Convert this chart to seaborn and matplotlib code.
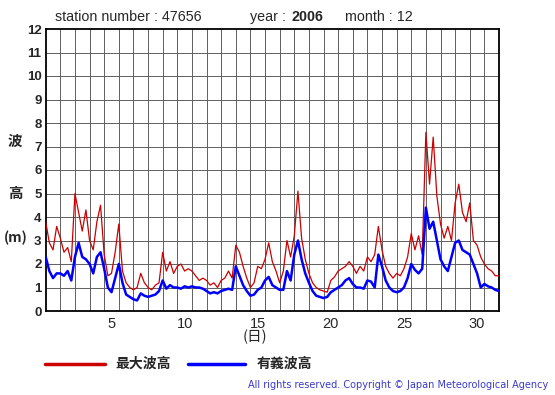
import numpy as np
import pandas as pd
import matplotlib
matplotlib.use("Agg")
import matplotlib.pyplot as plt
import seaborn as sns

# 6-hourly readings, day 1 00h .. day 31 18h, plus final point (day 32 00h)
max_wave = [
    3.8, 2.9, 2.6, 3.6,   3.1, 2.5, 2.7, 2.1,   5.0, 4.2, 3.4, 4.3,
    3.0, 2.6, 3.8, 4.5,   2.4, 1.5, 1.6, 2.5,   3.7, 1.7, 1.2, 1.0,
    0.9, 1.0, 1.6, 1.2,   1.0, 0.9, 1.1, 1.2,   2.5, 1.7, 2.1, 1.6,
    1.9, 2.0, 1.7, 1.8,   1.7, 1.5, 1.3, 1.4,   1.3, 1.1, 1.2, 1.0,
    1.3, 1.4, 1.7, 1.4,   2.8, 2.5, 1.9, 1.4,   1.0, 1.2, 1.9, 1.8,
    2.2, 2.9, 2.1, 1.7,   1.2, 1.7, 3.0, 2.3,   3.2, 5.1, 3.1, 2.2,
    1.6, 1.2, 1.0, 0.9,   0.85, 0.8, 1.3, 1.45, 1.7, 1.8, 1.9, 2.1,
    1.9, 1.6, 1.9, 1.7,   2.3, 2.1, 2.4, 3.6,   2.6, 1.9, 1.6, 1.4,
    1.6, 1.5, 1.8, 2.3,   3.3, 2.6, 3.2, 2.4,   7.6, 5.4, 7.4, 4.9,
    3.7, 3.1, 3.6, 3.0,   4.6, 5.4, 4.2, 3.8,   4.6, 3.0, 2.8, 2.3,
    2.0, 1.8, 1.7, 1.5,   1.5,
]
sig_wave = [
    2.3, 1.7, 1.4, 1.6,   1.6, 1.5, 1.7, 1.3,   2.3, 2.9, 2.3, 2.2,
    2.0, 1.6, 2.3, 2.5,   1.8, 1.0, 0.8, 1.4,   2.0, 1.2, 0.7, 0.6,
    0.5, 0.45, 0.75, 0.65, 0.6, 0.65, 0.7, 0.85, 1.3, 0.95, 1.1, 1.0,
    1.0, 0.95, 1.05, 1.0, 1.05, 1.0, 1.0, 0.95, 0.85, 0.75, 0.8, 0.75,
    0.85, 0.9, 0.95, 0.9, 1.9, 1.5, 1.1, 0.85, 0.65, 0.7, 0.9, 1.0,
    1.3, 1.45, 1.1, 1.0, 0.9, 0.9, 1.7, 1.3,  2.4, 3.0, 2.2, 1.6,
    1.2, 0.85, 0.65, 0.6, 0.55, 0.6, 0.8, 0.9, 1.0, 1.1, 1.3, 1.4,
    1.15, 1.0, 1.0, 0.95, 1.3, 1.25, 1.0, 2.4, 1.9, 1.3, 1.0, 0.85,
    0.8, 0.85, 1.0, 1.4,  2.0, 1.75, 1.6, 1.8, 4.4, 3.5, 3.8, 3.0,
    2.2, 1.9, 1.7, 2.3,   2.9, 3.0, 2.6, 2.5,  2.4, 2.0, 1.6, 1.0,
    1.15, 1.05, 1.0, 0.9, 0.85,
]
step_hours = 6
x_tick_days = [5, 10, 15, 20, 25, 30]
y_ticks = list(range(0, 13))

t = 1 + np.arange(len(max_wave)) * step_hours / 24.0
df = pd.DataFrame({"t": t, "max": max_wave, "sig": sig_wave})

sns.set_style("white")
plt.rcParams['font.family'] = ['Liberation Sans', 'DejaVu Sans']
jp = ['Noto Sans CJK JP', 'DejaVu Sans']

fig = plt.figure(figsize=(5.55, 3.95), dpi=100)
ax = fig.add_axes([45.7/555, 84/395, 453.3/555, 282/395])

sns.lineplot(data=df, x="t", y="max", ax=ax, color="#cc0000", lw=0.9, zorder=3)
sns.lineplot(data=df, x="t", y="sig", ax=ax, color="#0000ff", lw=1.8, zorder=4)

ax.set_xlim(1, 32)
ax.set_ylim(0, 12)
ax.set_xticks([d + 0.5 for d in x_tick_days])
ax.set_xticklabels([str(d) for d in x_tick_days], fontsize=10.5)
ax.set_yticks(y_ticks)
ax.set_yticklabels([str(v) for v in y_ticks], fontsize=9.5, fontweight='bold')
ax.grid(False)
for xv in range(2, 32):
    ax.axvline(xv, color="#606060", lw=0.7, zorder=1)
for yv in range(1, 12):
    ax.axhline(yv, color="#606060", lw=0.7, zorder=1)
ax.tick_params(axis='both', which='both', length=0, pad=3)
ax.tick_params(axis='x', pad=4)
for s in ax.spines.values():
    s.set_color("black")
    s.set_linewidth(1.3)
ax.set_xlabel("")
ax.set_ylabel("")

# titles
ty = 1 - 17/395
fig.text(55/555, ty, "station number : 47656", fontsize=10.3, va='center', ha='left')
fig.text(250/555, ty, "year : ", fontsize=10.3, va='center', ha='left')
fig.text(292/555, ty, "2006", fontsize=10.3, fontweight='bold', va='center', ha='left')
fig.text(345/555, ty, "month : 12", fontsize=10.3, va='center', ha='left')

# y label
fig.text(15/555, 1 - 141/395, "波", fontsize=10.5, fontweight='bold', family=jp, ha='center', va='center')
fig.text(15/555, 1 - 193/395, "高", fontsize=10.5, fontweight='bold', family=jp, ha='center', va='center')
fig.text(16/555, 1 - 238/395, "(m)", fontsize=10, fontweight='bold', family=jp, ha='center', va='center')

# x label
fig.text(255/555, 1 - 337/395, "(日)", fontsize=10.5, family=jp, ha='center', va='center')

# legend
ly = 1 - 364/395
fig.add_artist(plt.Line2D([45/555, 105/555], [ly, ly], color="#cc0000", lw=2.5))
fig.text(115/555, ly, "最大波高", fontsize=10, fontweight='bold', family=jp, ha='left', va='center')
fig.add_artist(plt.Line2D([188/555, 245/555], [ly, ly], color="#0000ff", lw=2.5))
fig.text(257/555, ly, "有義波高", fontsize=10, fontweight='bold', family=jp, ha='left', va='center')

fig.text(548/555, 1 - 385/395, "All rights reserved. Copyright © Japan Meteorological Agency",
         fontsize=7, color="#3a3acc", ha='right', va='center', family=['DejaVu Sans'])

fig.savefig("out.png", dpi=100)
